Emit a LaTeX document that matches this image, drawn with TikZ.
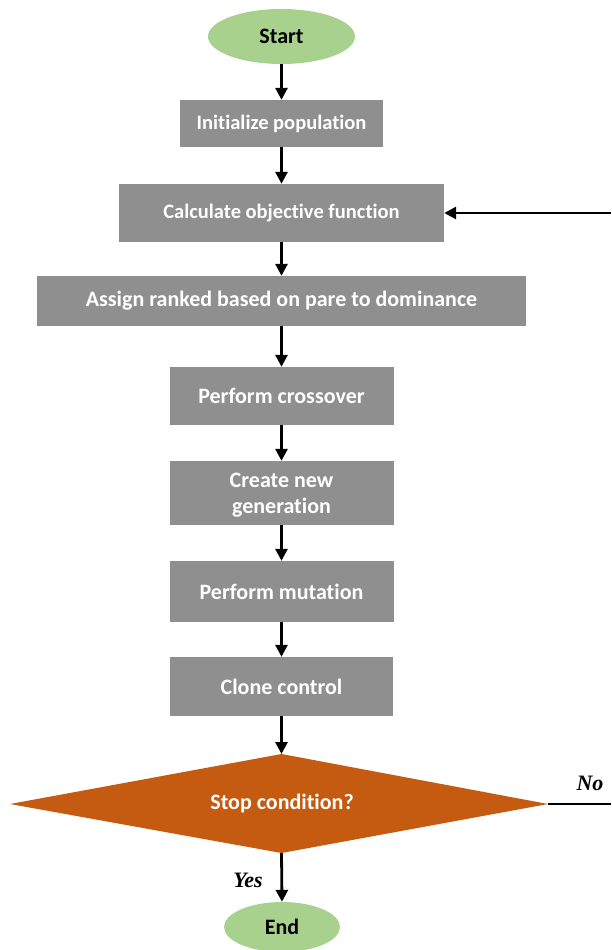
\documentclass[tikz,border=0pt]{standalone}
\usepackage{fontspec}
\setmainfont[Ligatures=NoCommon]{Carlito}
\newfontfamily\labelfont{Liberation Serif}
\usetikzlibrary{shapes.geometric,arrows.meta}
\definecolor{termgreen}{HTML}{A9D18E}
\definecolor{stepgray}{HTML}{8F8F8F}
\definecolor{decorange}{HTML}{C55A11}
\tikzset{
  bigtext/.style={font=\fontsize{22}{26}\selectfont\bfseries},
  smalltext/.style={font=\fontsize{20.5}{24}\selectfont\bfseries},
  terminal/.style={ellipse, fill=termgreen, draw=none, inner sep=0pt,
    bigtext, text=black},
  stepbox/.style={rectangle, fill=stepgray, draw=none, inner sep=0pt,
    bigtext, text=white, align=center},
  decisiontext/.style={inner sep=0pt, bigtext, text=white},
  flow/.style={line width=2.8pt, draw=black, -{Triangle[length=12pt,width=12pt]}},
  plainline/.style={line width=2.8pt, draw=black},
  branch/.style={font=\fontsize{22}{26}\selectfont\labelfont\bfseries\itshape, text=black}
}
\begin{document}
\begin{tikzpicture}[x=1pt,y=-1pt]
  \useasboundingbox (0,0) rectangle (611,950);

  % terminals
  \node[terminal, minimum width=147pt, minimum height=55pt] (start) at (281.5,36.5) {Start};
  \node[terminal, minimum width=116pt, minimum height=50pt] (end) at (282,927) {End};

  % process steps
  \node[stepbox, smalltext, minimum width=203pt, minimum height=47pt] (init) at (281.5,123.5) {Initialize population};
  \node[stepbox, smalltext, minimum width=325pt, minimum height=58pt] (calc) at (281.5,213) {Calculate objective function};
  \node[stepbox, minimum width=489pt, minimum height=50pt] (rank) at (281.5,301) {Assign ranked based on pare to dominance};
  \node[stepbox, minimum width=224pt, minimum height=58pt] (cross) at (281.5,396) {Perform crossover};
  \node[stepbox, minimum width=224pt, minimum height=64pt, text depth=0pt] (gen) at (281.5,493) {Create new\\generation};
  \node[stepbox, minimum width=224pt, minimum height=61pt] (mut) at (281.5,591.5) {Perform mutation};
  \node[stepbox, minimum width=223pt, minimum height=59pt] (clone) at (281.5,686.5) {Clone control};

  % decision diamond
  \coordinate (dtop) at (281.5,754);
  \coordinate (dright) at (548,804);
  \coordinate (dbottom) at (281.5,853);
  \coordinate (dleft) at (10,804);
  \fill[decorange] (dtop) -- (dright) -- (dbottom) -- (dleft) -- cycle;
  \node[decisiontext] (stop) at (282,804) {Stop condition?};

  % loop-back ends at the right margin
  \coordinate (loopin) at (611,213);
  \coordinate (loopout) at (611,804);

  % main flow
  \draw[flow] (start) -- (init);
  \draw[flow] (init) -- (calc);
  \draw[flow] (calc) -- (rank);
  \draw[flow] (rank) -- (cross);
  \draw[flow] (cross) -- (gen);
  \draw[flow] (gen) -- (mut);
  \draw[flow] (mut) -- (clone);
  \draw[flow] (clone.south) -- (dtop);
  \draw[flow] (dbottom) -- (end.north);

  % loop back
  \draw[plainline] (dright) -- (loopout);
  \draw[flow] (loopin) -- (calc.east);

  % branch labels
  \node[branch] (yes) at (248,880) {Yes};
  \node[branch] (no) at (590,783) {No};
\end{tikzpicture}
\end{document}
